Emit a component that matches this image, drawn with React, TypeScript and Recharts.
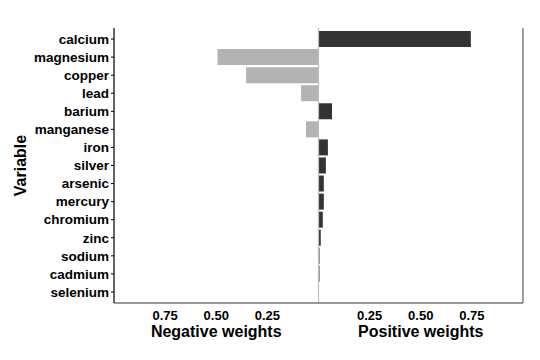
import { BarChart, Bar, Cell, XAxis, YAxis, ReferenceLine } from "recharts";

const variables = [
  "calcium", "magnesium", "copper", "lead", "barium", "manganese", "iron", "silver",
  "arsenic", "mercury", "chromium", "zinc", "sodium", "cadmium", "selenium",
];
const weights = [
  0.745, -0.494, -0.354, -0.085, 0.066, -0.061, 0.046, 0.036,
  0.026, 0.026, 0.021, 0.011, 0.005, 0.005, 0.002,
];
const xTicks = [-0.75, -0.5, -0.25, 0.25, 0.5, 0.75];

const data = variables.map((name, i) => ({ name, weight: weights[i] }));

const FONT = "'Liberation Sans', Arial, sans-serif";

function XTitles(props: any) {
  const { x, y, width } = props.viewBox;
  return (
    <g fontFamily={FONT} fontWeight="bold" fontSize={16} fill="#000" textAnchor="middle">
      <text x={x + width / 4} y={y + 34}>Negative weights</text>
      <text x={x + (3 * width) / 4} y={y + 34}>Positive weights</text>
    </g>
  );
}

function YTitle(props: any) {
  const { y, height } = props.viewBox;
  const cx = 26;
  const cy = y + height / 2;
  return (
    <text
      x={cx}
      y={cy}
      transform={`rotate(-90, ${cx}, ${cy})`}
      textAnchor="middle"
      fontFamily={FONT}
      fontWeight="bold"
      fontSize={16}
      fill="#000"
    >
      Variable
    </text>
  );
}

export default function App() {
  return (
    <div style={{ position: "absolute", left: 0, top: 0, background: "#fff" }}>
      <BarChart
        width={540}
        height={360}
        data={data}
        layout="vertical"
        margin={{ top: 28, right: 17, bottom: 0, left: 30 }}
      >
        <XAxis
          type="number"
          domain={[-1, 1]}
          ticks={xTicks}
          tickFormatter={(v: number) => Math.abs(v).toFixed(2)}
          height={57}
          tickLine={false}
          axisLine={{ stroke: "#333", strokeWidth: 1.2 }}
          tick={{ fill: "#000", fontSize: 13, fontWeight: "bold", fontFamily: FONT }}
          label={<XTitles />}
        />
        <YAxis
          type="category"
          dataKey="name"
          width={84}
          padding={{ top: 2, bottom: 2 }}
          tickSize={3}
          tickMargin={2}
          tickLine={{ stroke: "#000" }}
          axisLine={{ stroke: "#000", strokeWidth: 1.2 }}
          tick={{ fill: "#000", fontSize: 13.5, fontWeight: "bold", fontFamily: FONT }}
          interval={0}
          label={<YTitle />}
        />
        <ReferenceLine x={0} stroke="#bebebe" strokeWidth={1.2} />
        <ReferenceLine x={1} stroke="#7f7f7f" strokeWidth={1.5} />
        <Bar dataKey="weight" barSize={16} isAnimationActive={false}>
          {data.map((d) => (
            <Cell key={d.name} fill={d.weight < 0 ? "#b3b3b3" : "#333333"} />
          ))}
        </Bar>
      </BarChart>
    </div>
  );
}
